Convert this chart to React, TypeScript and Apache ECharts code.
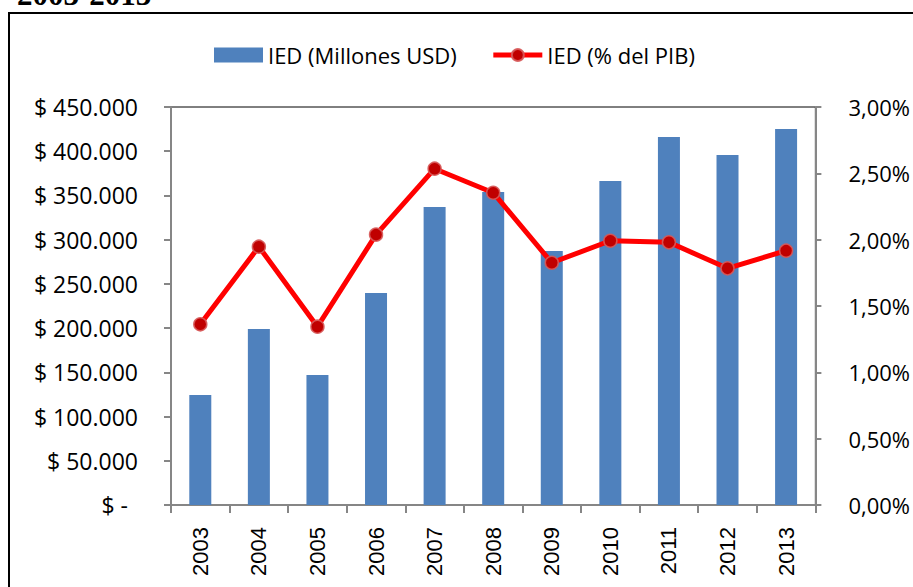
import React, { useEffect, useRef } from "react";
import * as echarts from "echarts";

const years = ["2003", "2004", "2005", "2006", "2007", "2008", "2009", "2010", "2011", "2012", "2013"];
const iedMillones = [124500, 199000, 147000, 239700, 337000, 354000, 287200, 366300, 416100, 395700, 425100];
const iedPctPib = [1.362, 1.947, 1.344, 2.038, 2.535, 2.354, 1.826, 1.992, 1.98, 1.784, 1.917];
const seriesNames = ["IED (Millones USD)", "IED (% del PIB)"];
const titleText = "2003-2013";

const fmtMoney = (v: number) => {
  if (v === 0) return "{z|$ -}";
  const s = Math.round(v).toString().replace(/\B(?=(\d{3})+(?!\d))/g, ".");
  return "$ " + s;
};
const fmtPct = (v: number) => v.toFixed(2).replace(".", ",") + "%";

export default function App() {
  const ref = useRef<HTMLDivElement>(null);
  useEffect(() => {
    if (!ref.current) return;
    const chart = echarts.init(ref.current, undefined, { renderer: "svg" });
    const axisGray = "#868686";
    const labelFont = "'Open Sans', sans-serif";
    chart.setOption({
      animation: false,
      backgroundColor: "#fff",
      graphic: [
        {
          type: "rect",
          shape: { x: 9, y: 13, width: 1000, height: 1000 },
          style: { fill: "none", stroke: "#000", lineWidth: 2 },
        },
        {
          type: "text",
          x: 17,
          y: -6,
          style: {
            text: titleText,
            font: "bold 31px serif",
            fill: "#000",
            verticalAlign: "middle",
          },
        },
      ],
      legend: {
        left: 214,
        top: 44,
        padding: 0,
        itemWidth: 49,
        itemHeight: 15,
        itemGap: 34,
        textStyle: { fontFamily: labelFont, fontSize: 22, color: "#000" },
        data: [
          { name: seriesNames[0], icon: "rect" },
          { name: seriesNames[1], lineStyle: { width: 5, color: "#FF0000" } },
        ],
      },
      grid: {
        left: 171,
        right: 96,
        top: 107,
        bottom: 82,
        show: true,
        borderColor: "#000",
        borderWidth: 1,
      },
      xAxis: {
        type: "category",
        data: years,
        boundaryGap: true,
        axisLine: { lineStyle: { color: axisGray, width: 2 } },
        axisTick: { show: true, alignWithLabel: false, length: 8, lineStyle: { color: axisGray, width: 2 } },
        axisLabel: {
          rotate: 90,
          margin: 22,
          color: "#000",
          fontFamily: "'Liberation Sans', Arial, sans-serif",
          fontSize: 22,
          interval: 0,
        },
      },
      yAxis: [
        {
          type: "value",
          min: 0,
          max: 450000,
          interval: 50000,
          position: "left",
          splitLine: { show: false },
          axisLine: { show: true, lineStyle: { color: axisGray, width: 2 } },
          axisTick: { show: true, length: 7, lineStyle: { color: axisGray, width: 2 } },
          axisLabel: {
            margin: 33,
            color: "#000",
            fontFamily: labelFont,
            fontSize: 23,
            formatter: fmtMoney,
            rich: { z: { fontFamily: labelFont, fontSize: 23, color: "#000", padding: [0, 10, 0, 0] } },
          },
        },
        {
          type: "value",
          min: 0,
          max: 3,
          interval: 0.5,
          position: "right",
          splitLine: { show: false },
          axisLine: { show: true, lineStyle: { color: axisGray, width: 2 } },
          axisTick: { show: true, length: 6, lineStyle: { color: axisGray, width: 2 } },
          axisLabel: {
            margin: 33,
            color: "#000",
            fontFamily: labelFont,
            fontSize: 22,
            formatter: fmtPct,
          },
        },
      ],
      series: [
        {
          name: seriesNames[0],
          type: "bar",
          data: iedMillones,
          yAxisIndex: 0,
          barWidth: 22,
          itemStyle: { color: "#4F81BD" },
        },
        {
          name: seriesNames[1],
          type: "line",
          data: iedPctPib,
          yAxisIndex: 1,
          symbol: "circle",
          symbolSize: 13,
          lineStyle: { color: "#FF0000", width: 5 },
          itemStyle: { color: "#C00000", borderColor: "rgba(215,90,90,0.9)", borderWidth: 1.5 },
        },
      ],
    });
    return () => chart.dispose();
  }, []);
  return (
    <div
      ref={ref}
      style={{ position: "fixed", left: 0, top: 0, width: 913, height: 587 }}
    />
  );
}
